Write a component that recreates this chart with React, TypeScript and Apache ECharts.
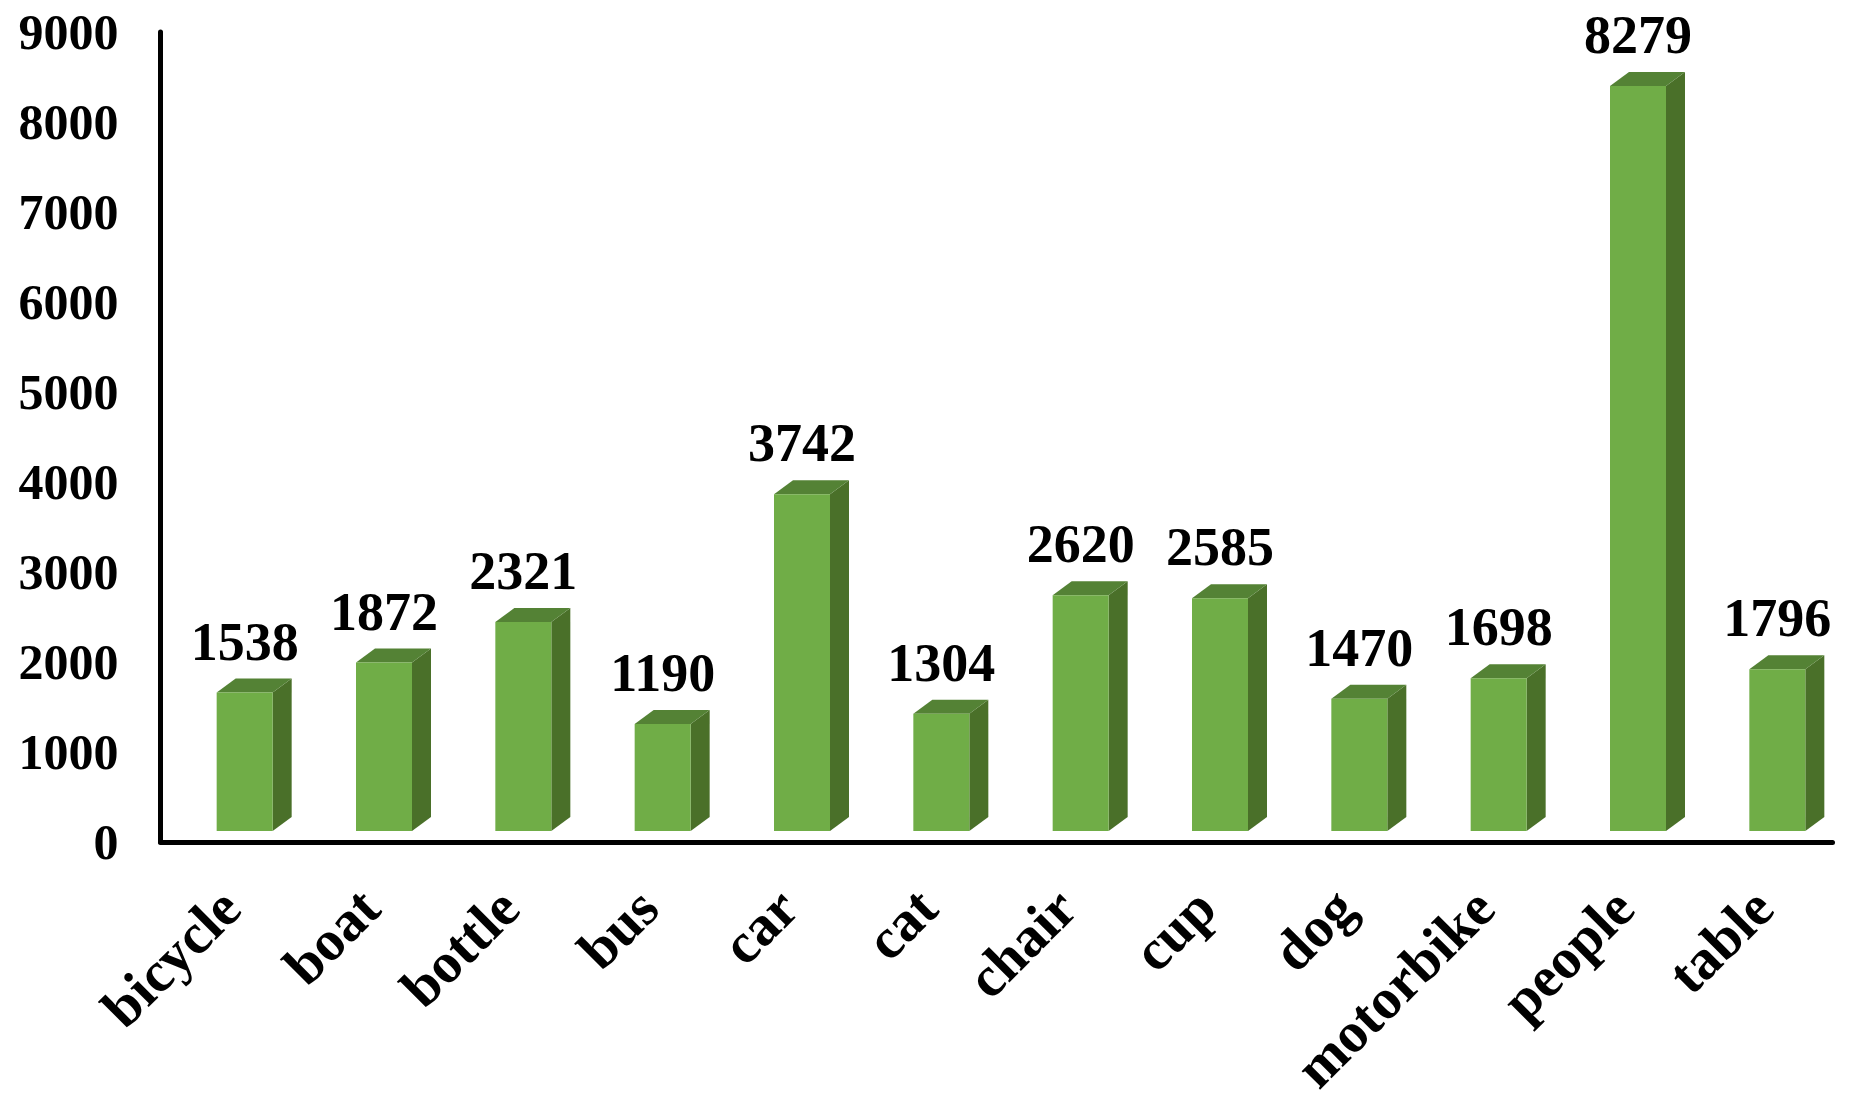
import React, { useEffect, useRef } from "react";
import * as echarts from "echarts";

const categories = ["bicycle", "boat", "bottle", "bus", "car", "cat", "chair", "cup", "dog", "motorbike", "people", "table"];
const counts = [1538, 1872, 2321, 1190, 3742, 1304, 2620, 2585, 1470, 1698, 8279, 1796];
const yTickStep = 1000;
const yMax = 9000;

const FRONT = "#70AD47";
const SIDE = "#4A7029";
const TOP = "#548235";
const FONT = '"Liberation Serif", serif';

export default function App() {
  const ref = useRef<HTMLDivElement>(null);
  useEffect(() => {
    document.body.style.margin = "0";
    document.body.style.background = "#fff";
    const chart = echarts.init(ref.current!, null, { renderer: "svg" });
    const shiftX = 14.5;
    const baseLift = 11;
    const halfW = 28;
    const dx = 19;
    const dy = 14;
    chart.setOption({
      animation: false,
      backgroundColor: "#ffffff",
      grid: { left: 160.5, top: 32, width: 1672, height: 810, containLabel: false, outerBoundsMode: "none" },
      xAxis: {
        type: "category",
        data: categories,
        axisLine: { show: true, lineStyle: { color: "#000", width: 5 } },
        axisTick: { show: false },
        axisLabel: {
          interval: 0,
          rotate: 45,
          margin: 56,
          color: "#000",
          fontFamily: FONT,
          fontWeight: "bold",
          fontSize: 57,
        },
      },
      yAxis: {
        type: "value",
        min: 0,
        max: yMax,
        interval: yTickStep,
        splitLine: { show: false },
        axisTick: { show: false },
        axisLine: { show: true, lineStyle: { color: "#000", width: 5 } },
        axisLabel: {
          margin: 42,
          color: "#000",
          fontFamily: FONT,
          fontWeight: "bold",
          fontSize: 50,
          padding: [18, 0, 0, 0],
          formatter: (v: number) => String(v),
        },
      },
      series: [
        {
          type: "custom",
          encode: { x: 0, y: 1 },
          data: categories.map((c, i) => [c, counts[i]]),
          renderItem: (_: any, api: any) => {
            const [cx, yTop0] = api.coord([api.value(0), api.value(1)]);
            const [, yBase0] = api.coord([api.value(0), 0]);
            const x0 = cx + shiftX - halfW;
            const x1 = cx + shiftX + halfW;
            const y = yTop0 - baseLift;
            const b = yBase0 - baseLift;
            return {
              type: "group",
              children: [
                {
                  type: "polygon",
                  shape: { points: [[x1, y], [x1 + dx, y - dy], [x1 + dx, b - dy], [x1, b]] },
                  style: { fill: SIDE },
                },
                {
                  type: "polygon",
                  shape: { points: [[x0, y], [x0 + dx, y - dy], [x1 + dx, y - dy], [x1, y]] },
                  style: { fill: TOP },
                },
                {
                  type: "rect",
                  shape: { x: x0, y, width: x1 - x0, height: b - y },
                  style: { fill: FRONT },
                },
                {
                  type: "text",
                  x: x0 + halfW,
                  y: y - 51,
                  style: {
                    text: String(api.value(1)),
                    fill: "#000",
                    font: `bold 54px ${FONT}`,
                    align: "center",
                    verticalAlign: "middle",
                  },
                },
              ],
            };
          },
        },
      ],
    });
    return () => chart.dispose();
  }, []);
  return <div ref={ref} style={{ width: 1855, height: 1100 }} />;
}
